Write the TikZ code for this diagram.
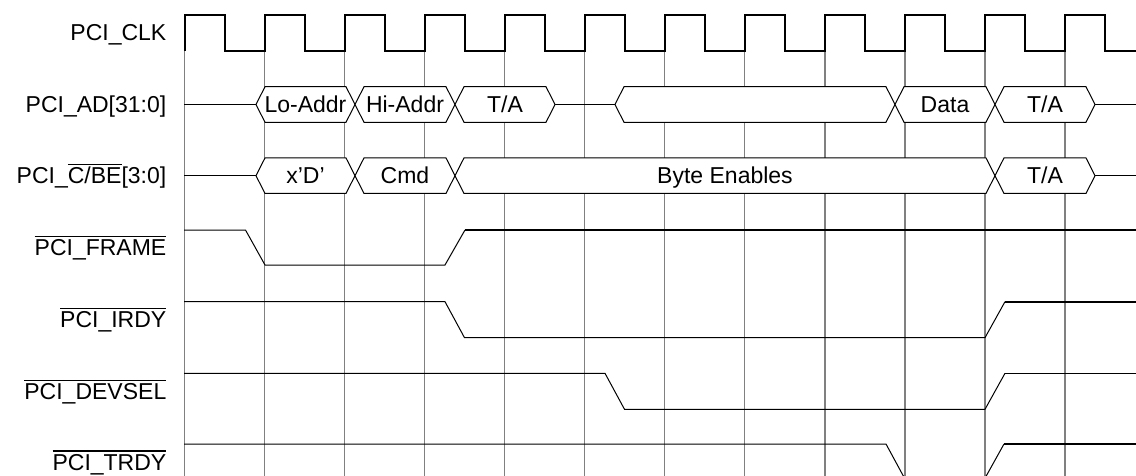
\documentclass[tikz,border=0pt]{standalone}
\usepackage{fontspec}
\setmainfont{Liberation Sans}
\definecolor{gridgray}{HTML}{808080}
\newcommand\hexbus[3]{\draw[busbox] (#1,#3) -- (#1+9,#3-17.8) -- (#2-9,#3-17.8) -- (#2,#3) -- (#2-9,#3+17.8) -- (#1+9,#3+17.8) -- cycle;}
\newcommand\ovl[1]{\vbox{\hrule height 1.3pt\kern 2.4pt\hbox{#1}}}
\begin{document}
\begin{tikzpicture}[x=1pt,y=-1pt,
  clk/.style={line width=2pt, line join=miter},
  gridl/.style={draw=gridgray, line width=1.2pt},
  sig/.style={line width=1pt, line join=miter},
  sigthick/.style={line width=1.6pt},
  busline/.style={line width=1.3pt},
  busbox/.style={draw, fill=white, line width=1pt, line join=miter},
  lab/.style={anchor=base east, inner sep=0pt, font=\fontsize{23}{27}\selectfont},
  btxt/.style={anchor=base, inner sep=0pt, font=\fontsize{23}{27}\selectfont}]
\useasboundingbox (0,0) rectangle (1136,476);
\clip (0,0) rectangle (1136,476);
% grid
\foreach \k in {0,...,11} \draw[gridl] (184.5+80.05*\k,50.7) -- (184.5+80.05*\k,476);
% clock
\draw[clk] (184.5,50.7) -- ++(0,-36)
  \foreach \k in {0,...,10} { -- ++(40.025,0) -- ++(0,36) -- ++(40.025,0) -- ++(0,-36) }
  -- ++(40.025,0) -- ++(0,36) -- (1136,50.7);
% PCI_AD
\coordinate (ad0) at (184,104.5);
\coordinate (ad1) at (256,104.5);
\coordinate (ad2) at (555,104.5);
\coordinate (ad3) at (615,104.5);
\coordinate (ad4) at (1095,104.5);
\coordinate (ad5) at (1136,104.5);
\draw[busline] (ad0) -- (ad1);
\draw[busline] (ad2) -- (ad3);
\draw[busline] (ad4) -- (ad5);
\hexbus{256}{355}{104.5}
\hexbus{355}{455}{104.5}
\hexbus{455}{555}{104.5}
\hexbus{615}{895}{104.5}
\hexbus{895}{995}{104.5}
\hexbus{995}{1095}{104.5}
% PCI_C/BE
\coordinate (cb0) at (184,175.7);
\coordinate (cb1) at (256,175.7);
\coordinate (cb2) at (1095,175.7);
\coordinate (cb3) at (1136,175.7);
\draw[busline] (cb0) -- (cb1);
\draw[busline] (cb2) -- (cb3);
\hexbus{256}{355}{175.7}
\hexbus{355}{455}{175.7}
\hexbus{455}{995}{175.7}
\hexbus{995}{1095}{175.7}
% FRAME
\draw[sig] (184,230) -- (245.5,230) -- (265,265) -- (445,265) -- (465,230);
\draw[sigthick] (465,230) -- (1136,230);
% IRDY
\draw[sig] (184,301.7) -- (445,301.7) -- (464.5,337.7) -- (985,337.7) -- (1005,301.7);
\draw[sigthick] (1005,301.7) -- (1136,301.7);
% DEVSEL
\draw[sig] (184,373.3) -- (605,373.3) -- (624.5,409.3) -- (985,409.3) -- (1005,373.3);
\draw[sigthick] (1005,373.3) -- (1136,373.3);
% TRDY
\draw[sig] (184,444) -- (886,444) -- (905.5,480);
\draw[sig] (984,480) -- (1004,444);
\draw[sigthick] (1004,444) -- (1136,444);
% bus texts
\node[btxt] (t1) at (305.5,112.7) {Lo-Addr};
\node[btxt] (t2) at (405,112.7) {Hi-Addr};
\node[btxt] (t3) at (505,112.7) {T/A};
\node[btxt] (t4) at (945,112.7) {Data};
\node[btxt] (t5) at (1045,112.7) {T/A};
\node[btxt] (c1) at (305.5,183.9) {x’D’};
\node[btxt] (c2) at (405,183.9) {Cmd};
\node[btxt] (c3) at (725,183.9) {Byte Enables};
\node[btxt] (c4) at (1045,183.9) {T/A};
% labels
\node[lab] (lclk) at (166.5,40.9) {PCI\_CLK};
\node[lab] (lad) at (166.5,112.7) {PCI\_AD[31:0]};
\node[lab] (lcbe) at (166.5,183.9) {PCI\_\ovl{C/BE}[3:0]};
\node[lab] (lframe) at (166.5,255.7) {\ovl{PCI\_FRAME}};
\node[lab] (lirdy) at (166.5,327.9) {\ovl{PCI\_IRDY}};
\node[lab] (ldevsel) at (166.5,399.5) {\ovl{PCI\_DEVSEL}};
\node[lab] (ltrdy) at (166.5,470.2) {\ovl{PCI\_TRDY}};
\end{tikzpicture}
\end{document}
